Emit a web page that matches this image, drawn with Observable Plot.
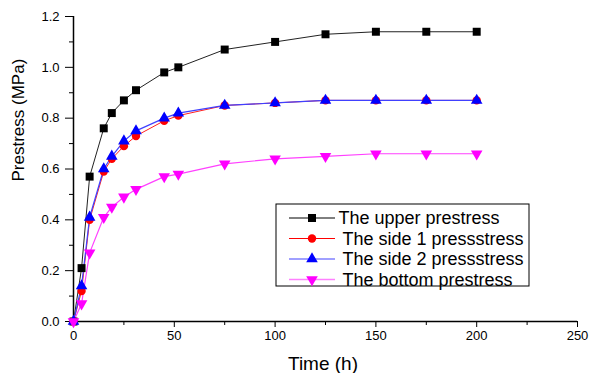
<!DOCTYPE html>
<html>
<head>
<meta charset="utf-8">
<script src="https://cdn.jsdelivr.net/npm/d3@7"></script>
<script src="https://cdn.jsdelivr.net/npm/@observablehq/plot@0.6"></script>
<style>
  html, body { margin: 0; padding: 0; background: #fff; overflow: hidden; }
  svg text { font-family: "Liberation Sans", Arial, sans-serif; }
</style>
</head>
<body>
<div id="chart"></div>
<script>
// ---- data ----
const time   = [0, 4, 8, 15, 19, 25, 31, 45, 52, 75, 100, 125, 150, 175, 200];
const upper  = [0, 0.21, 0.57, 0.76, 0.82, 0.87, 0.91, 0.98, 1.00, 1.07, 1.10, 1.13, 1.14, 1.14, 1.14];
const side1  = [0, 0.12, 0.40, 0.59, 0.64, 0.69, 0.73, 0.79, 0.81, 0.85, 0.86, 0.87, 0.87, 0.87, 0.87];
const side2  = [0, 0.14, 0.41, 0.60, 0.65, 0.71, 0.75, 0.80, 0.82, 0.85, 0.86, 0.87, 0.87, 0.87, 0.87];
const bottom = [0, 0.07, 0.27, 0.41, 0.45, 0.49, 0.52, 0.57, 0.58, 0.62, 0.64, 0.65, 0.66, 0.66, 0.66];

const seriesNames = ["The upper prestress", "The side 1 pressstress", "The side 2 pressstress", "The bottom prestress"];
const xTicks = [0, 50, 100, 150, 200, 250];
const xMinor = [25, 75, 125, 175, 225];
const yTicks = [0, 0.2, 0.4, 0.6, 0.8, 1.0, 1.2];
const yMinor = [0.1, 0.3, 0.5, 0.7, 0.9, 1.1];
const xLabel = "Time (h)";
const yLabel = "Prestress (MPa)";

// ---- styles ----
const styles = [
  {values: upper,  color: "#000000", lineColor: "#222222", legendLine: "#000000", symbol: "square",   r: 4.5, rotate: 0,   lw: 1},
  {values: side1,  color: "#ff0000", lineColor: "#ff2020", legendLine: "#ff0000", symbol: "circle",   r: 4.2, rotate: 0,   lw: 1},
  {values: side2,  color: "#0000ff", lineColor: "#4040ff", legendLine: "#8080ff", symbol: "triangle", r: 4.3, rotate: 0,   lw: 1.2},
  {values: bottom, color: "#ff00ff", lineColor: "#ff40ff", legendLine: "#ff80ff", symbol: "triangle", r: 4.3, rotate: 180, lw: 1.2}
];

const series = seriesNames.map((name, k) => ({
  name, ...styles[k],
  rows: time.map((t, i) => ({t, v: styles[k].values[i]}))
}));

const W = 590, H = 373;
const marks = [
  Plot.axisX({ticks: xTicks, tickSize: 6, tickPadding: 3, label: null, tickFormat: d3.format("d"), fontSize: 13}),
  Plot.axisX({ticks: xMinor, tickSize: 4, label: null, tickFormat: () => ""}),
  Plot.axisY({ticks: yTicks, tickSize: 8, tickPadding: 6, label: null, tickFormat: d3.format(".1f"), fontSize: 13}),
  Plot.axisY({ticks: yMinor, tickSize: 4, label: null, tickFormat: () => ""}),
  Plot.ruleX([0], {stroke: "#000", strokeWidth: 1.5}),
  Plot.ruleY([0], {stroke: "#000", strokeWidth: 1.5}),
  Plot.text([xLabel], {text: d => d, frameAnchor: "bottom", dy: 42, dx: -2.5, fontSize: 19, lineAnchor: "middle", fill: "#000"}),
  Plot.text([yLabel], {text: d => d, frameAnchor: "left", dx: -55, dy: 12.5, rotate: -90, fontSize: 17, lineAnchor: "middle", fill: "#000"})
];
for (const s of series) {
  marks.push(Plot.line(s.rows, {x: "t", y: "v", stroke: s.lineColor, strokeWidth: s.lw}));
}
for (const s of series) {
  marks.push(Plot.dot(s.rows, {x: "t", y: "v", symbol: s.symbol, r: s.r, fill: s.color, stroke: "none", rotate: s.rotate}));
}

const chart = Plot.plot({
  width: W, height: H,
  marginLeft: 73, marginRight: 13, marginTop: 16, marginBottom: 52,
  x: {domain: [0, 250]},
  y: {domain: [0, 1.2]},
  style: {fontFamily: "Liberation Sans, Arial, sans-serif", fontSize: "13px", color: "#000", background: "#fff"},
  marks
});
document.getElementById("chart").appendChild(chart);

// ---- legend (inside plot, drawn in pixel space) ----
const svg = d3.select(chart);
const lg = svg.append("g").attr("text-anchor", "start");
lg.append("rect").attr("x", 276).attr("y", 204).attr("width", 253).attr("height", 82)
  .attr("fill", "#fff").attr("stroke", "#000").attr("stroke-width", 1);
series.forEach((s, k) => {
  const y = 218 + k * 20.5;
  lg.append("line").attr("x1", 289).attr("x2", 335).attr("y1", y).attr("y2", y)
    .attr("stroke", s.legendLine).attr("stroke-width", k >= 2 ? 1.6 : 1);
  const symType = s.symbol === "square" ? d3.symbolSquare : s.symbol === "circle" ? d3.symbolCircle : d3.symbolTriangle;
  lg.append("path").attr("d", d3.symbol(symType, Math.PI * s.r * s.r)())
    .attr("transform", `translate(312,${y}) rotate(${s.rotate})`).attr("fill", s.color);
  lg.append("text").attr("x", k === 0 ? 338.5 : 342.5).attr("y", y).attr("dy", "0.35em")
    .attr("text-anchor", "start").attr("font-size", 18).attr("fill", "#000").text(s.name);
});
</script>
</body>
</html>
